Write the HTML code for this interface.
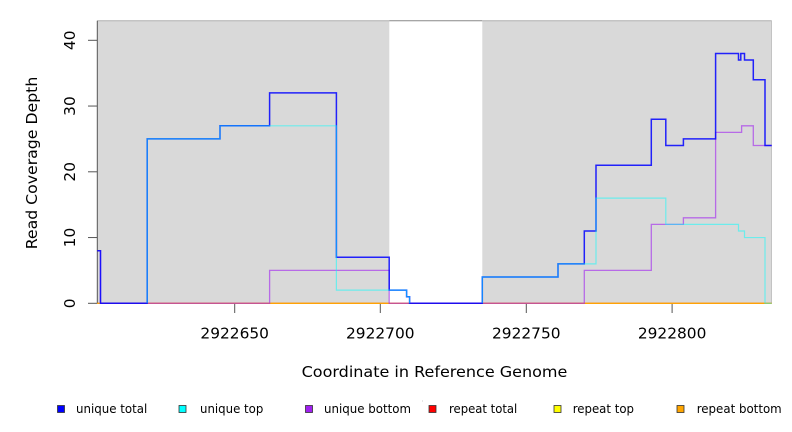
<!DOCTYPE html>
<html>
<head>
<meta charset="utf-8">
<style>
  html,body{margin:0;padding:0;background:#fff;}
  svg{display:block;}
  text{font-family:"DejaVu Sans","Liberation Sans",sans-serif;fill:#000;}
</style>
</head>
<body>
<svg width="792" height="432" viewBox="0 0 792 432" xmlns="http://www.w3.org/2000/svg">
  <rect x="0" y="0" width="792" height="432" fill="#ffffff"/>

  <!-- gray regions -->
  <rect x="97.3" y="20.7" width="292" height="282.6" fill="#d9d9d9"/>
  <rect x="482.3" y="20.7" width="289.4" height="282.6" fill="#d9d9d9"/>
  <!-- top border line -->
  <line x1="97.3" y1="20.7" x2="389.3" y2="20.7" stroke="#b0b0b0" stroke-width="1"/>
  <line x1="389.3" y1="20.7" x2="482.3" y2="20.7" stroke="#888888" stroke-width="1"/>
  <line x1="482.3" y1="20.7" x2="771.7" y2="20.7" stroke="#b0b0b0" stroke-width="1"/>
  <line x1="771.4" y1="20.7" x2="771.4" y2="303.3" stroke="#b8b8b8" stroke-width="0.8"/>

  <!-- y axis -->
  <g stroke="#555" stroke-width="1">
    <line x1="97.3" y1="20.7" x2="97.3" y2="303.3"/>
    <line x1="88" y1="40.3" x2="97.3" y2="40.3"/>
    <line x1="88" y1="106.05" x2="97.3" y2="106.05"/>
    <line x1="88" y1="171.8" x2="97.3" y2="171.8"/>
    <line x1="88" y1="237.55" x2="97.3" y2="237.55"/>
    <line x1="88" y1="303.3" x2="97.3" y2="303.3"/>
    <!-- x ticks -->
    <line x1="234.7" y1="303.3" x2="234.7" y2="313"/>
    <line x1="380.3" y1="303.3" x2="380.3" y2="313"/>
    <line x1="526.3" y1="303.3" x2="526.3" y2="313"/>
    <line x1="672.1" y1="303.3" x2="672.1" y2="313"/>
  </g>

  <!-- y tick labels -->
  <g font-size="15.4" text-anchor="middle">
    <text transform="translate(75,40.3) rotate(-90)">40</text>
    <text transform="translate(75,106.05) rotate(-90)">30</text>
    <text transform="translate(75,171.8) rotate(-90)">20</text>
    <text transform="translate(75,237.55) rotate(-90)">10</text>
    <text transform="translate(75,303.3) rotate(-90)">0</text>
  </g>
  <!-- y title -->
  <text transform="translate(37,163) rotate(-90)" font-size="15.4" text-anchor="middle" textLength="172.6" lengthAdjust="spacingAndGlyphs">Read Coverage Depth</text>

  <!-- x tick labels -->
  <g font-size="15.4" text-anchor="middle">
    <text x="234.7" y="338.3">2922650</text>
    <text x="380.3" y="338.3">2922700</text>
    <text x="526.3" y="338.3">2922750</text>
    <text x="672.1" y="338.3">2922800</text>
  </g>
  <text x="434.5" y="377" font-size="15.4" text-anchor="middle" textLength="265.7" lengthAdjust="spacingAndGlyphs">Coordinate in Reference Genome</text>

  <!-- repeat series (all zero) -->
  <line x1="97.3" y1="303.3" x2="771.7" y2="303.3" stroke="#ff0000" stroke-width="1.2"/>
  <line x1="97.3" y1="303.3" x2="771.7" y2="303.3" stroke="#ffff00" stroke-width="1.2" stroke-opacity="0.6"/>
  <line x1="97.3" y1="303.3" x2="771.7" y2="303.3" stroke="#ffa500" stroke-width="1.2"/>

  <!-- unique bottom -->
  <path d="M97.3,250.7 H100.5 V303.3 H269.6 V270.4 H389.2 V303.3 H584.3 V270.4 H651.3 V224.4 H683.4 V217.8 H715.6 V132.35 H741.6 V125.8 H753.3 V145.5 H771.7"
        fill="none" stroke="#a020f0" stroke-opacity="0.6" stroke-width="1.3"/>
  <!-- unique total -->
  <path d="M97.3,250.7 H100.5 V303.3 H147.2 V138.9 H220 V125.8 H269.6 V92.9 H336.4 V257.3 H389.2 V290.15 H406.6 V296.7 H409.6 V303.3 H482.3 V277 H558 V263.85 H584.3 V231 H596 V165.2 H651.3 V119.2 H665.8 V145.5 H683.4 V138.9 H715.6 V53.45 H738.5 V60 H740.8 V53.45 H744.5 V60 H753.3 V79.75 H765 V145.5 H771.7"
        fill="none" stroke="#0000ff" stroke-opacity="0.85" stroke-width="1.5"/>
  <!-- unique top (drawn over total, zero segments under zero total omitted) -->
  <path d="M147.2,303.3 V138.9 H220 V125.8 H336.4 V290.15 H406.6 V296.7 H409.6 V303.3 M482.3,303.3 V277 H558 V263.85 H596 V198.1 H665.8 V224.4 H738.5 V231 H744.5 V237.55 H765 V303.3 H771.7"
        fill="none" stroke="#00ffff" stroke-opacity="0.5" stroke-width="1.2"/>

  <!-- legend -->
  <g stroke="#333" stroke-width="0.8">
    <rect x="57.5" y="405.5" width="7" height="7" fill="#0000ff"/>
    <rect x="179" y="405.5" width="7" height="7" fill="#00ffff"/>
    <rect x="305.5" y="405.5" width="7" height="7" fill="#a020f0"/>
    <rect x="429" y="405.5" width="7" height="7" fill="#ff0000"/>
    <rect x="554" y="405.5" width="7" height="7" fill="#ffff00"/>
    <rect x="677" y="405.5" width="7" height="7" fill="#ffa500"/>
  </g>
  <rect x="422" y="400.5" width="1" height="1" fill="#cccccc"/>
  <g font-size="12" fill="#111">
    <text x="76" y="412.8" textLength="71.3" lengthAdjust="spacingAndGlyphs">unique total</text>
    <text x="200" y="412.8" textLength="63.3" lengthAdjust="spacingAndGlyphs">unique top</text>
    <text x="324" y="412.8" textLength="87" lengthAdjust="spacingAndGlyphs">unique bottom</text>
    <text x="449" y="412.8" textLength="68.3" lengthAdjust="spacingAndGlyphs">repeat total</text>
    <text x="572.7" y="412.8" textLength="61.3" lengthAdjust="spacingAndGlyphs">repeat top</text>
    <text x="696.7" y="412.8" textLength="85" lengthAdjust="spacingAndGlyphs">repeat bottom</text>
  </g>
</svg>
</body>
</html>
